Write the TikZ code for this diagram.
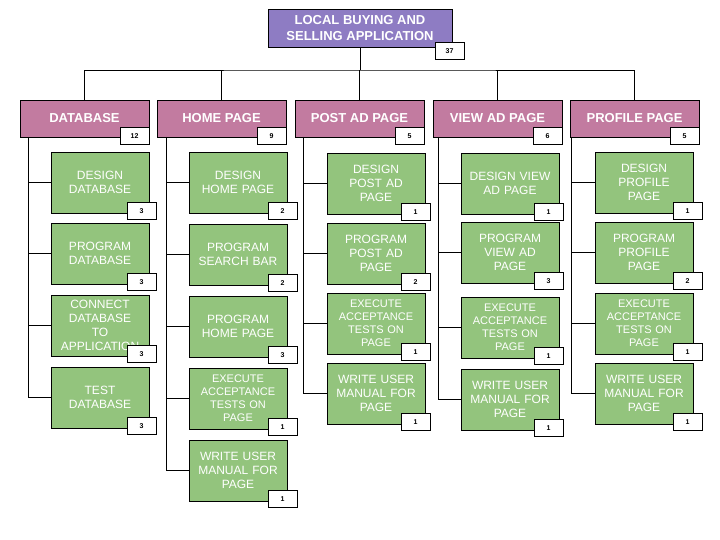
\documentclass[tikz,border=0pt]{standalone}
\usepackage{fontspec}
\setmainfont{Liberation Sans}
\definecolor{rootviolet}{HTML}{8E7CC3}
\definecolor{pagepink}{HTML}{C27BA0}
\definecolor{taskgreen}{HTML}{93C47D}

\begin{document}
\begin{tikzpicture}[x=1pt,y=-1pt,line width=0.8pt,
        root/.style={draw,fill=rootviolet,text=white,minimum width=184pt,minimum height=38pt,
            align=center,font=\fontsize{13}{16}\selectfont\bfseries},
        page/.style={draw,fill=pagepink,text=white,minimum width=129pt,minimum height=37pt,
            font=\fontsize{13}{16}\selectfont\bfseries},
        task/.style={draw,fill=taskgreen,text=white,minimum width=98pt,minimum height=61pt,
            text width=96pt,inner sep=1pt,align=center,font=\fontsize{12}{14}\selectfont},
        smalltask/.style={task,font=\fontsize{11}{13}\selectfont},
        hours/.style={draw,fill=white,minimum width=29pt,minimum height=17pt,inner sep=0pt,
            anchor=north east,font=\fontsize{7}{8}\selectfont\bfseries}]
    \useasboundingbox (0,0) rectangle (720,540);

    % root
    \node[root] (root) at (360,28) {LOCAL BUYING AND\\SELLING APPLICATION};
    \node[hours] at ([xshift=12pt,yshift=5pt]root.south east) {37};

    % pages
    \node[page] (db) at (84.5,118.5) {DATABASE};
    \node[page] (home) at (221.5,118.5) {HOME PAGE};
    \node[page] (post) at (359.5,118.5) {POST AD PAGE};
    \node[page] (view) at (497.5,118.5) {VIEW AD PAGE};
    \node[page] (prof) at (634.5,118.5) {PROFILE PAGE};

    \coordinate (bus) at (360,70);
    \draw (root.south) -- (bus);
    \draw (db.north) |- (bus) -| (prof.north);
    \foreach \p in {home,post,view}
        \draw (\p.north) -- (\p.north |- bus);

    % spines
    \coordinate (dbs) at (28,137);
    \coordinate (homes) at (166,137);
    \coordinate (posts) at (303,137);
    \coordinate (views) at (438,137);
    \coordinate (profs) at (571,137);

    % tasks
    \node[task] (db1) at (100,182.5) {DESIGN\\DATABASE};
    \node[task] (db2) at (100,253.5) {PROGRAM\\DATABASE};
    \node[task] (db3) at (100,325.5) {CONNECT\\DATABASE\\TO\\APPLICATION};
    \node[task] (db4) at (100,397.5) {TEST\\DATABASE};

    \node[task] (home1) at (238,182.5) {DESIGN\\HOME PAGE};
    \node[task] (home2) at (238,254.5) {PROGRAM\\SEARCH BAR};
    \node[task] (home3) at (238,326.5) {PROGRAM\\HOME PAGE};
    \node[smalltask] (home4) at (238,398.5) {EXECUTE\\ACCEPTANCE\\TESTS ON\\PAGE};
    \node[task] (home5) at (238,470.5) {WRITE USER\\MANUAL FOR\\PAGE};

    \node[task] (post1) at (376,183.5) {DESIGN\\POST AD\\PAGE};
    \node[task] (post2) at (376,253.5) {PROGRAM\\POST AD\\PAGE};
    \node[smalltask] (post3) at (376,323.5) {EXECUTE\\ACCEPTANCE\\TESTS ON\\PAGE};
    \node[task] (post4) at (376,393.5) {WRITE USER\\MANUAL FOR\\PAGE};

    \node[task] (view1) at (510,183.5) {DESIGN VIEW\\AD PAGE};
    \node[task] (view2) at (510,252.5) {PROGRAM\\VIEW AD\\PAGE};
    \node[smalltask] (view3) at (510,327.5) {EXECUTE\\ACCEPTANCE\\TESTS ON\\PAGE};
    \node[task] (view4) at (510,399.5) {WRITE USER\\MANUAL FOR\\PAGE};

    \node[task] (prof1) at (644,182.5) {DESIGN\\PROFILE\\PAGE};
    \node[task] (prof2) at (644,252.5) {PROGRAM\\PROFILE\\PAGE};
    \node[smalltask] (prof3) at (644,323.5) {EXECUTE\\ACCEPTANCE\\TESTS ON\\PAGE};
    \node[task] (prof4) at (644,393.5) {WRITE USER\\MANUAL FOR\\PAGE};

    % connectors
    \foreach \s/\t in {dbs/db4,homes/home5,posts/post4,views/view4,profs/prof4}
        \draw (\s) |- (\t.west);
    \foreach \s/\t in {dbs/db1,dbs/db2,dbs/db3,homes/home1,homes/home2,homes/home3,homes/home4,
            posts/post1,posts/post2,posts/post3,views/view1,views/view2,views/view3,
            profs/prof1,profs/prof2,profs/prof3}
        \draw (\t.west) -- (\t.west -| \s);

    % hours
    \foreach \p/\n in {db/12,home/9,post/5,view/6,prof/5}
        \node[hours] at ([yshift=10pt]\p.south east) {\n};
    \foreach \t/\n/\dx in {db1/3/7,db2/3/7,db3/3/7,db4/3/7,
            home1/2/10,home2/2/10,home3/3/10,home4/1/10,home5/1/10,
            post1/1/5,post2/2/5,post3/1/5,post4/1/5,
            view1/1/4,view2/3/4,view3/1/4,view4/1/4,
            prof1/1/9,prof2/2/9,prof3/1/9,prof4/1/9}
        \node[hours] at ([xshift=\dx pt,yshift=11pt]\t.south east) {\n};
\end{tikzpicture}
\end{document}
